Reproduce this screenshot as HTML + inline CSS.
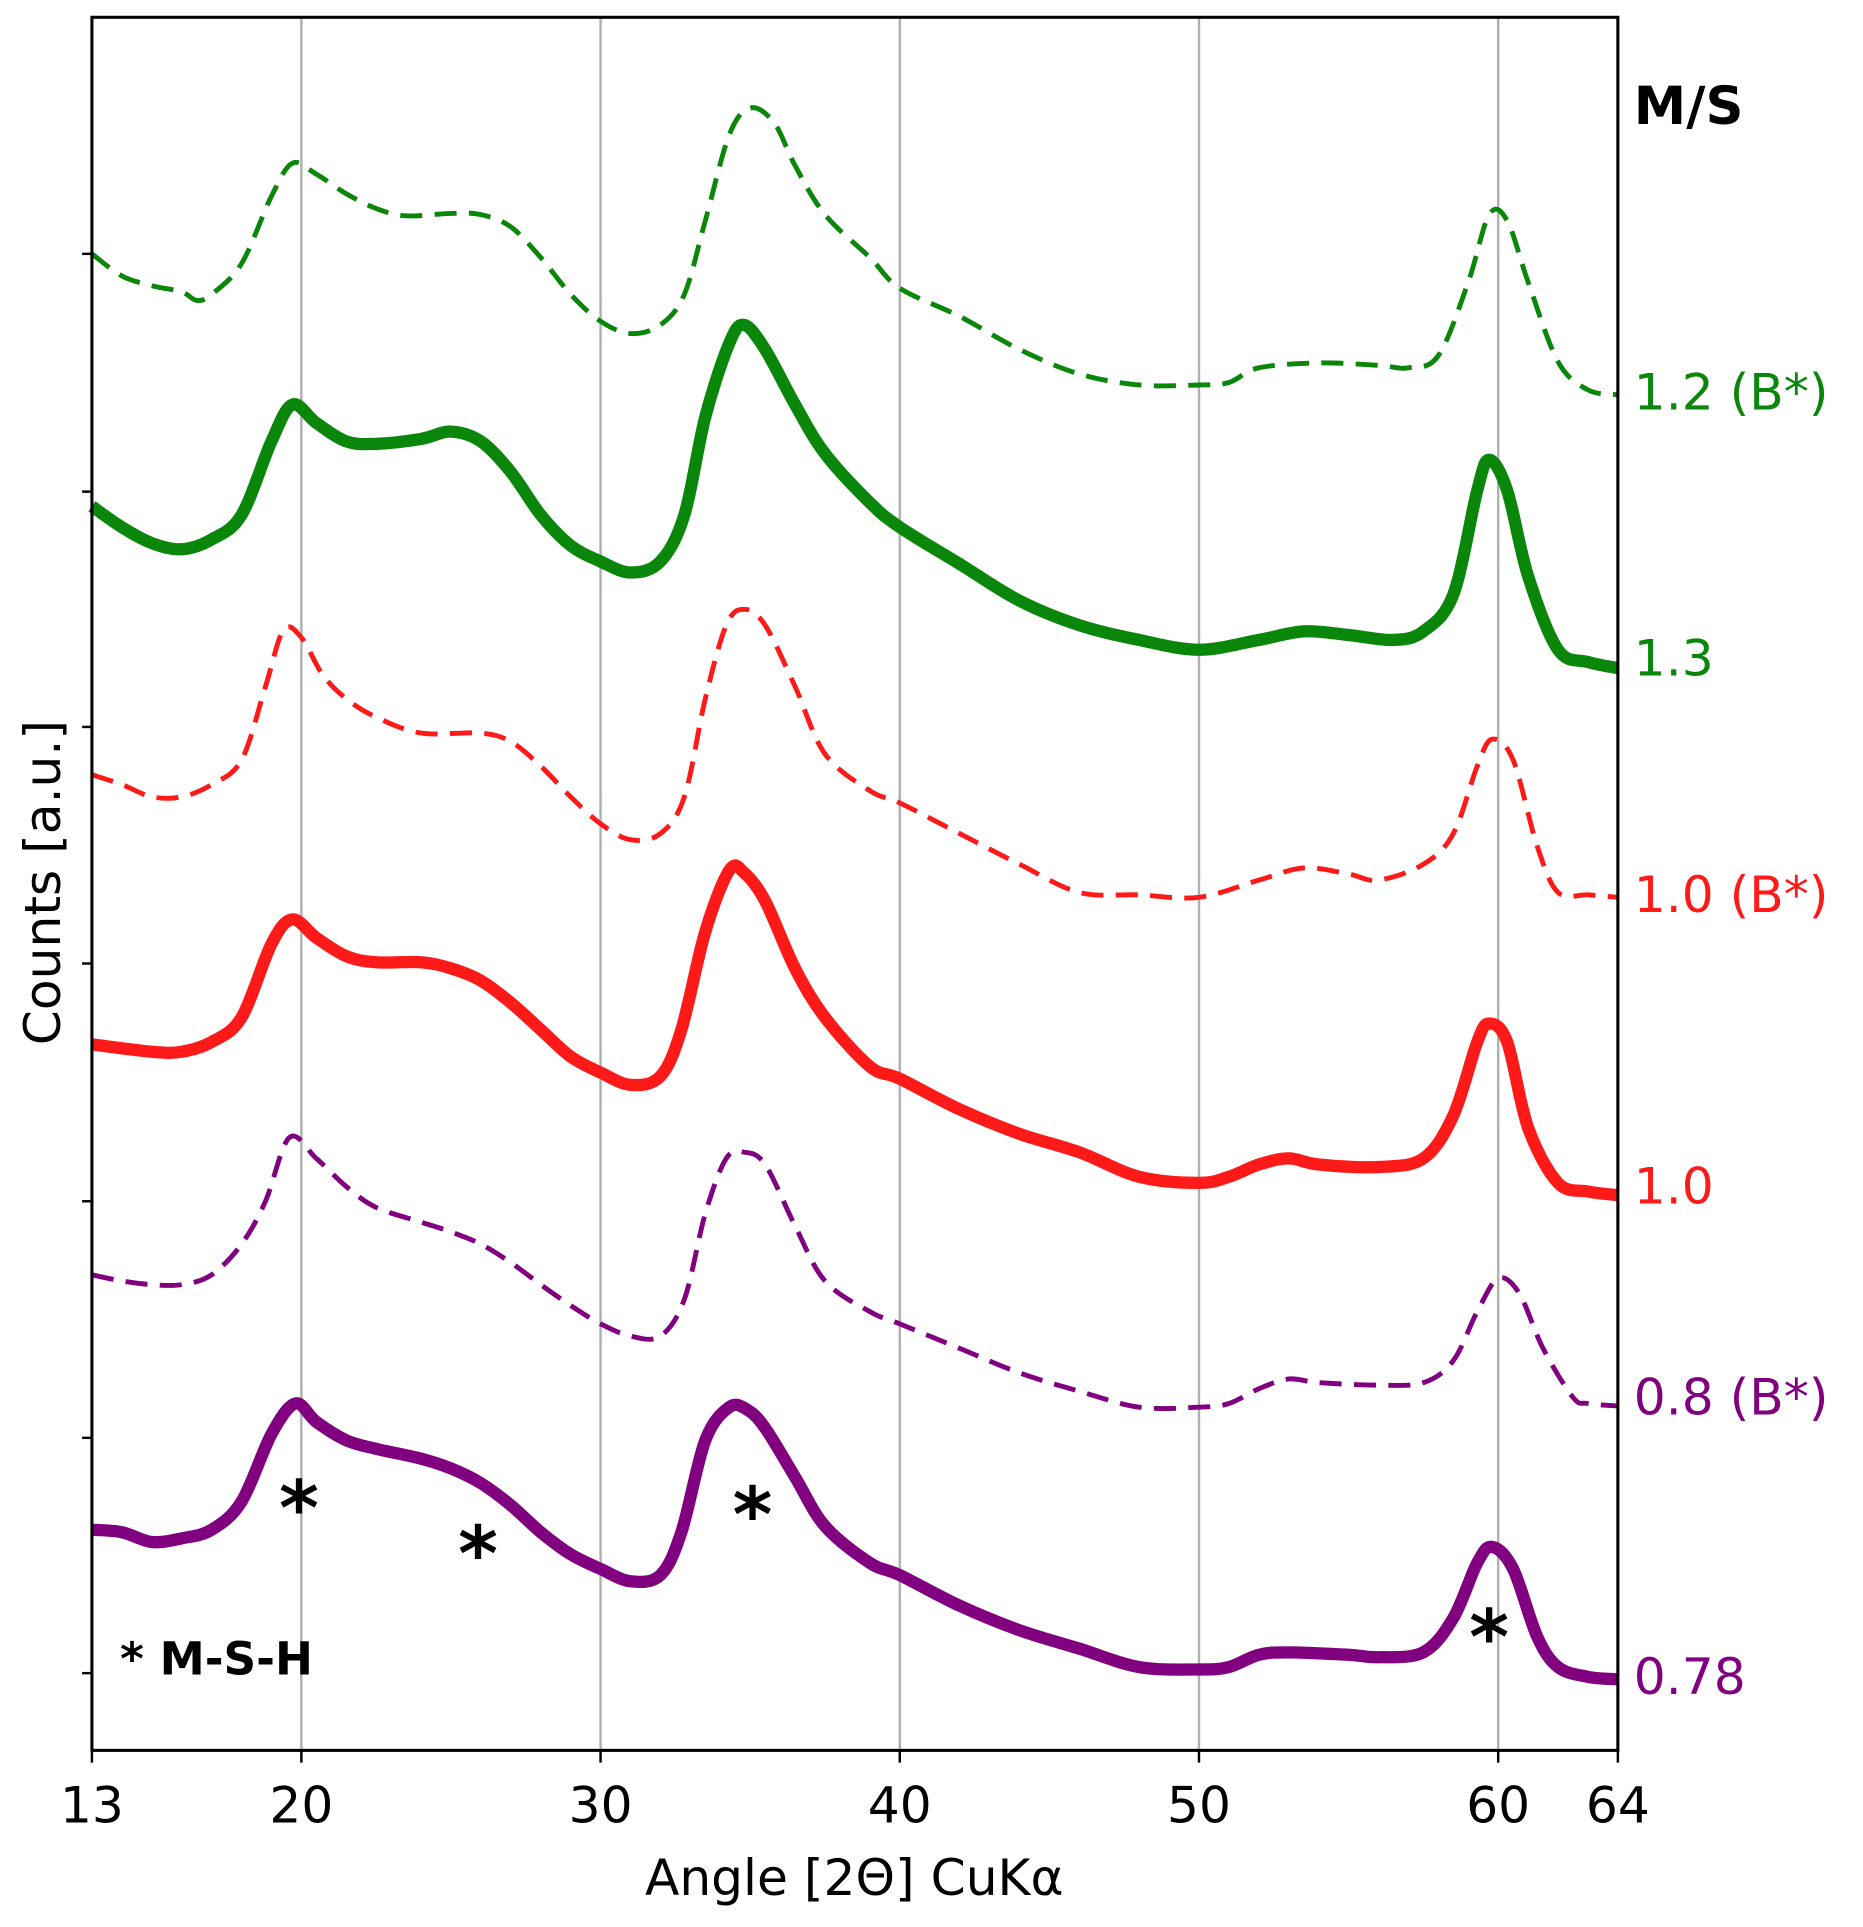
<!DOCTYPE html>
<html><head><meta charset="utf-8"><style>html,body{margin:0;padding:0;background:#fff}svg{display:block}text{font-family:"DejaVu Sans","Liberation Sans",sans-serif}</style></head>
<body>
<svg id="chart" width="1863" height="1927" viewBox="0 0 1520 1572" xmlns="http://www.w3.org/2000/svg"></svg>
<script>
const xTicks=[13,20,30,40,50,60,64];
const yTickVals=[1221,1027,835,642,448,255,63];
const seriesNames=["1.2 (B*)","1.3","1.0 (B*)","1.0","0.8 (B*)","0.78"];
const seriesColors=["#0a870a","#0a870a","#ff1a1a","#ff1a1a","#800080","#800080"];
const seriesDashed=[true,false,true,false,true,false];
const labelVals=[1108,891,698,460,288,60];
const angles=[
[13,14,15,16,16.5,17,18,19,19.7,20.5,21.5,22.5,23.5,25,26,27,28,29,30,31,32,32.8,33.5,34.3,35,35.8,36.5,37.5,39,40,42,44,46,48,50,51,52,54,56,57,58,59,59.7,60.3,61,62,63,64],
[13,14,15,16,17,18,19,19.7,20.5,21.5,22.5,24,25,26,27,28,29,30,31,32,32.8,33.5,34.3,34.8,35.5,36.5,37.5,39,40,42,44,46,48,50,52,53.5,55,56.5,57.5,58.5,59.3,59.7,60.3,61,62,63,64],
[13,14,15,16,17,18,18.8,19.4,20,20.7,21.5,22.5,24,26,27,28,29,30,31,32,32.8,33.5,34.2,34.8,35.5,36.5,37.5,39,40,42,44,46,48,50,52,53.5,55,56,57.5,58.5,59.3,59.8,60.5,61.3,62,63,64],
[13,15,16,17,18,19,19.7,20.5,21.5,22.5,24,25,26,27,28,29,30,31,32,32.7,33.5,34.3,34.8,35.5,36.5,37.5,39,40,42,44,46,48,50,51,52,53,54,56,57.5,58.5,59.3,59.7,60.3,61,62,63,64],
[13,14,15,16,17,18,18.8,19.6,20.5,21.5,22.5,24,25,26,27,28,29,30,31,32,32.8,33.5,34.2,34.8,35.5,36.5,37.5,39,40,42,44,46,48,50,51,52,53,54,56,57.5,58.5,59.3,60,60.7,61.5,62.5,63,64],
[13,14,15,16,17,18,19,19.8,20.5,21.5,22.5,24,25,26,27,28,29,30,31,32,32.7,33.5,34.3,34.9,35.5,36.5,37.5,39,40,42,44,46,48,50,51,52,53,55,56,57.5,58.5,59.3,59.8,60.5,61.3,62,63,64]];
const pix=[
[207,225,233,238,245,240,215,160,133,142,158,170,176,174,175,185,210,240,262,272,265,240,180,110,88,100,135,175,210,235,258,285,305,314,314,312,300,296,298,300,290,230,175,180,230,295,318,322],
[413,430,443,448,440,420,360,330,345,360,362,358,352,360,385,420,445,458,467,458,420,340,280,265,285,330,370,410,430,460,490,510,522,530,522,515,518,522,515,485,400,375,400,470,530,540,545],
[632,640,650,650,640,620,560,514,520,550,570,585,598,598,605,625,650,672,685,680,650,570,510,497,510,560,615,645,655,680,705,728,730,732,718,708,713,718,705,680,625,603,620,690,728,730,732],
[852,858,858,850,830,770,750,765,780,785,785,790,800,818,840,862,875,885,878,840,760,710,712,735,790,830,870,880,905,925,940,960,965,960,950,945,950,952,945,910,850,835,850,920,965,972,975],
[1040,1045,1048,1048,1040,1015,980,928,945,968,985,997,1005,1015,1030,1048,1065,1080,1090,1090,1060,990,945,940,950,1000,1045,1070,1080,1100,1120,1135,1148,1148,1145,1133,1125,1128,1130,1128,1110,1070,1043,1055,1100,1140,1145,1147],
[1248,1250,1258,1255,1248,1225,1170,1145,1160,1175,1182,1190,1198,1210,1228,1250,1268,1280,1290,1285,1250,1175,1148,1150,1165,1205,1245,1275,1285,1310,1330,1345,1360,1362,1360,1350,1348,1350,1352,1348,1320,1275,1262,1280,1335,1360,1368,1370]];
// counts (arbitrary units): derived from read positions
const counts=pix.map(a=>a.map(p=>1428-p));

const L=75,R=1320,T=14,B=1428;
const X=v=>L+(v-13)/(64-13)*(R-L);
const Y=v=>B-v;
const NS="http://www.w3.org/2000/svg";
const svg=document.getElementById('chart');
function mk(tag,attrs,parent){const e=document.createElementNS(NS,tag);for(const k in attrs)e.setAttribute(k,attrs[k]);(parent||svg).appendChild(e);return e;}

xTicks.forEach(t=>{
  if(t>13&&t<64){const g=mk('line',{x1:X(t),x2:X(t),y1:T,y2:B,stroke:'#b0b0b0','stroke-width':2});
  
  }
  const tk=mk('line',{x1:X(t),x2:X(t),y1:B,y2:B+10,stroke:'#000','stroke-width':2});
  
  
  const lb=mk('text',{x:X(t),y:B+59,'font-size':41,'text-anchor':'middle',fill:'#000'});
  lb.textContent=t;
  
  
});
yTickVals.forEach(v=>{
  const tk=mk('line',{x1:L,x2:L-8,y1:Y(v),y2:Y(v),stroke:'#000','stroke-width':2});
  
  
});

function path(xs,ys){
  const p=xs.map((a,i)=>[X(a),Y(ys[i])]);
  let d=`M${p[0][0]},${p[0][1]}`;
  for(let i=0;i<p.length-1;i++){
    const p0=p[Math.max(0,i-1)],p1=p[i],p2=p[i+1],p3=p[Math.min(p.length-1,i+2)];
    const c1=[p1[0]+(p2[0]-p0[0])/6,p1[1]+(p2[1]-p0[1])/6];
    const c2=[p2[0]-(p3[0]-p1[0])/6,p2[1]-(p3[1]-p1[1])/6];
    d+=`C${c1[0]},${c1[1]} ${c2[0]},${c2[1]} ${p2[0]},${p2[1]}`;
  }
  return d;
}
counts.forEach((ys,i)=>{
  const attrs={d:path(angles[i],ys),fill:'none',stroke:seriesColors[i],'stroke-width':seriesDashed[i]?4:10,'stroke-linejoin':'round'};
  if(seriesDashed[i])attrs['stroke-dasharray']='18,10';
  const e=mk('path',attrs);
  
  
  const lb=mk('text',{x:1333,y:Y(labelVals[i])+14,'font-size':41,fill:seriesColors[i]});
  lb.textContent=seriesNames[i];
  
  
});
const fr=mk('rect',{x:L,y:T,width:R-L,height:B-T,fill:'none',stroke:'#000','stroke-width':2.5});


</script>
<svg style="position:absolute;left:0;top:0" width="1863" height="1927" viewBox="0 0 1520 1572" xmlns="http://www.w3.org/2000/svg">
<text x="1333" y="101" font-size="43" font-weight="bold" font-family="DejaVu Sans, Liberation Sans, sans-serif">M/S</text>
<g font-size="62" font-weight="bold" font-family="DejaVu Sans, Liberation Sans, sans-serif" text-anchor="middle">
<text x="244" y="1252">*</text>
<text x="390" y="1289">*</text>
<text x="614" y="1257">*</text>
<text x="1215" y="1357">*</text>
</g>
<text x="98" y="1366" font-size="37" font-weight="bold" font-family="DejaVu Sans, Liberation Sans, sans-serif">* M-S-H</text>
<text transform="translate(49,720) rotate(-90)" font-size="41" text-anchor="middle" font-family="DejaVu Sans, Liberation Sans, sans-serif">Counts [a.u.]</text>
<text x="697" y="1546" font-size="41" text-anchor="middle" font-family="DejaVu Sans, Liberation Sans, sans-serif">Angle [2Θ] CuKα</text>
</svg>
</body></html>
